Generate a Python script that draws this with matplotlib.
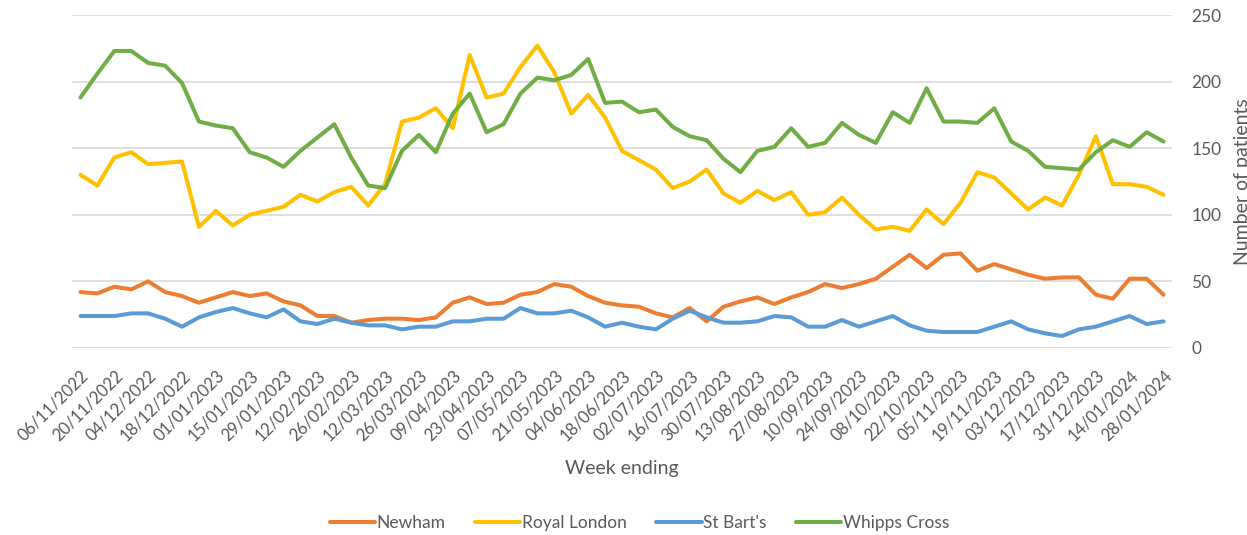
import matplotlib
matplotlib.use("Agg")
import matplotlib.pyplot as plt
import pandas as pd

# weekly counts, week ending 06/11/2022 .. 28/01/2024
weeks = pd.date_range("2022-11-06", "2024-01-28", freq="7D")

newham = [42, 41, 46, 44, 50, 42, 39, 34, 38, 42,
          39, 41, 35, 32, 24, 24, 19, 21, 22, 22,
          21, 23, 34, 38, 33, 34, 40, 42, 48, 46,
          39, 34, 32, 31, 26, 23, 30, 20, 31, 35,
          38, 33, 38, 42, 48, 45, 48, 52, 61, 70,
          60, 70, 71, 58, 63, 59, 55, 52, 53, 53,
          40, 37, 52, 52, 40]
royal_london = [130, 122, 143, 147, 138, 139, 140, 91, 103, 92,
                100, 103, 106, 115, 110, 117, 121, 107, 123, 170,
                173, 180, 165, 220, 188, 191, 211, 227, 207, 176,
                190, 173, 148, 141, 134, 120, 125, 134, 116, 109,
                118, 111, 117, 100, 102, 113, 100, 89, 91, 88,
                104, 93, 109, 132, 128, 116, 104, 113, 107, 130,
                159, 123, 123, 121, 115]
st_barts = [24, 24, 24, 26, 26, 22, 16, 23, 27, 30,
            26, 23, 29, 20, 18, 22, 19, 17, 17, 14,
            16, 16, 20, 20, 22, 22, 30, 26, 26, 28,
            23, 16, 19, 16, 14, 22, 28, 23, 19, 19,
            20, 24, 23, 16, 16, 21, 16, 20, 24, 17,
            13, 12, 12, 12, 16, 20, 14, 11, 9, 14,
            16, 20, 24, 18, 20]
whipps_cross = [188, 206, 223, 223, 214, 212, 199, 170, 167, 165,
                147, 143, 136, 148, 158, 168, 143, 122, 120, 148,
                160, 147, 176, 191, 162, 168, 191, 203, 201, 205,
                217, 184, 185, 177, 179, 166, 159, 156, 142, 132,
                148, 151, 165, 151, 154, 169, 160, 154, 177, 169,
                195, 170, 170, 169, 180, 155, 148, 136, 135, 134,
                147, 156, 151, 162, 155]

series = [("Newham", newham, "#ED7D31"),
          ("Royal London", royal_london, "#FFC000"),
          ("St Bart's", st_barts, "#5B9BD5"),
          ("Whipps Cross", whipps_cross, "#70AD47")]

txt = "#595959"
plt.rcParams["font.family"] = ["Lato", "DejaVu Sans"]

fig = plt.figure(figsize=(12.47, 5.35), dpi=100)
ax = fig.add_axes([72 / 1247, 1 - 348 / 535, 1100 / 1247, 333 / 535])

x = list(range(len(weeks)))
for name, vals, col in series:
    ax.plot(x, vals, color=col, lw=2.9, label=name,
            solid_joinstyle="round", solid_capstyle="round")

ax.set_xlim(-0.5, len(weeks) - 0.5)
ax.set_ylim(0, 250)
ax.set_yticks(range(0, 251, 50))
ax.yaxis.tick_right()
ax.yaxis.set_label_position("right")
ax.grid(axis="y", color="#D9D9D9", lw=1.2)
ax.set_axisbelow(True)
for s in ax.spines.values():
    s.set_visible(False)

ax.set_xticks(x[::2])
ax.set_xticklabels([d.strftime("%d/%m/%Y") for d in weeks[::2]],
                   rotation=45, ha="right", rotation_mode="anchor")
ax.tick_params(axis="x", length=0, pad=14, labelsize=12, labelcolor=txt)
ax.tick_params(axis="y", length=0, pad=14, labelsize=12.5, labelcolor=txt)
for lab in ax.get_yticklabels():
    lab.set_horizontalalignment("left")

ax.set_xlabel("Week ending", fontsize=14, color=txt, labelpad=12)
# the reference has this label partly cut by the right edge
ax.set_ylabel("Number of patients", fontsize=14, color=txt, rotation=90)
ax.yaxis.set_label_coords(1.0565, 0.5)

fig.legend(loc="center", bbox_to_anchor=(0.513, 0.0224), ncol=4,
           frameon=False, fontsize=12.5, labelcolor=txt,
           handlelength=2.6, handletextpad=0.1, columnspacing=1.7)

fig.savefig("out.png", dpi=100)
